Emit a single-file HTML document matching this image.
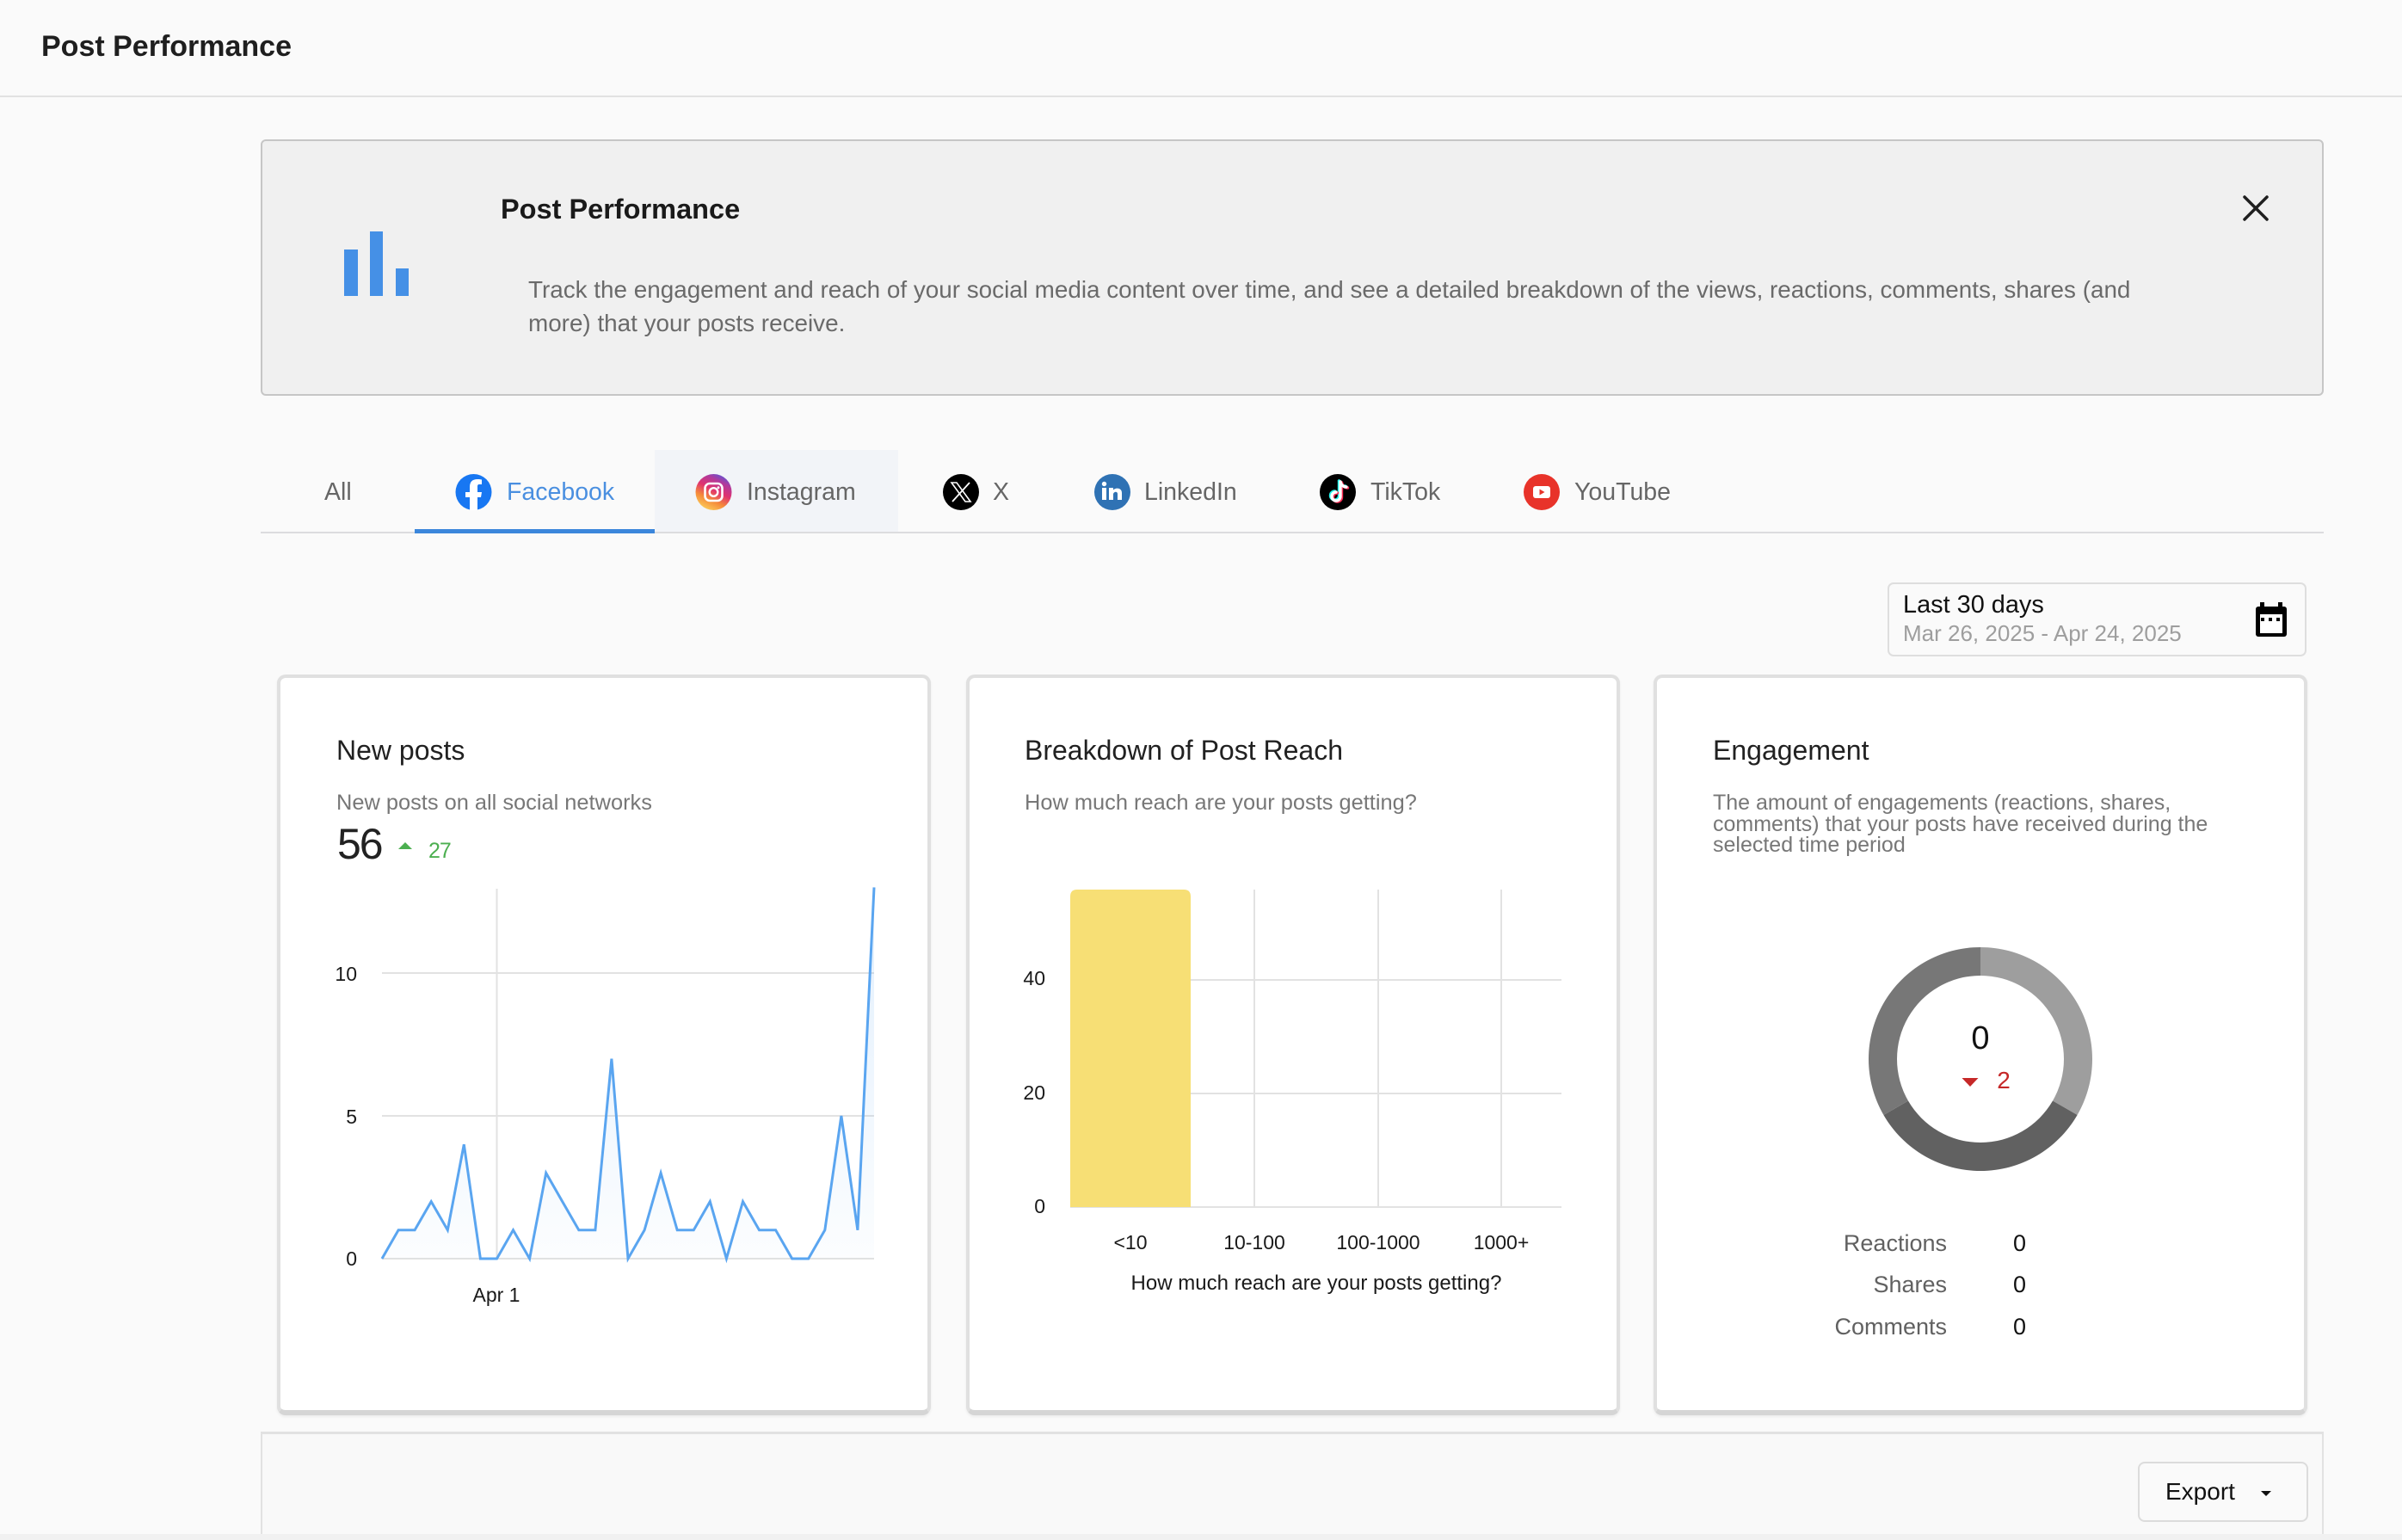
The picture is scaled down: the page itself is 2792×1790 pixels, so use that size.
<!DOCTYPE html>
<html><head><meta charset="utf-8">
<style>
*{margin:0;padding:0;box-sizing:border-box}
html,body{width:2792px;height:1790px;overflow:hidden;background:#fafafa;font-family:"Liberation Sans",Arial,sans-serif;}
.a{position:absolute;white-space:nowrap;line-height:1}
.card{position:absolute;top:784px;width:760px;height:861px;background:#fff;border:4px solid #e0e0e0;border-bottom:6px solid #d5d5d5;border-radius:10px;box-shadow:0 2px 3px rgba(0,0,0,0.06)}
.ct{position:absolute;top:856px;font-size:32px;color:#212121;white-space:nowrap;line-height:1}
.cs{position:absolute;top:921px;font-size:25.4px;color:#777;white-space:nowrap;line-height:1}
.tab{position:absolute;top:558px;font-size:28.5px;color:#666;white-space:nowrap;line-height:1}
</style></head><body>

<!-- header -->
<div class="a" style="left:0;top:0;width:2792px;height:113px;background:#fafafa;border-bottom:2px solid #e2e2e2"></div>
<div class="a" style="left:48px;top:37px;font-size:34px;font-weight:bold;color:#1f1f1f">Post Performance</div>

<!-- banner -->
<div class="a" style="left:303px;top:162px;width:2398px;height:298px;background:#f0f0f0;border:2px solid #c6c6c6;border-radius:6px"></div>
<div class="a" style="left:582px;top:227px;font-size:32.5px;font-weight:bold;color:#1a1a1a">Post Performance</div>
<div class="a" style="left:614px;top:317px;font-size:27.85px;line-height:39px;color:#6a6a6a">Track the engagement and reach of your social media content over time, and see a detailed breakdown of the views, reactions, comments, shares (and<br>more) that your posts receive.</div>

<!-- tabs -->
<div class="a" style="left:761px;top:523px;width:283px;height:95px;background:#f2f4f8"></div>
<div class="a" style="left:303px;top:618px;width:2398px;height:2px;background:#dcdcde"></div>
<div class="a" style="left:482px;top:615px;width:279px;height:5px;background:#3b86db"></div>
<div class="tab" style="left:377px">All</div>
<div class="tab" style="left:589px;color:#4a8fe0">Facebook</div>
<div class="tab" style="left:868px">Instagram</div>
<div class="tab" style="left:1154px">X</div>
<div class="tab" style="left:1330px">LinkedIn</div>
<div class="tab" style="left:1593px">TikTok</div>
<div class="tab" style="left:1830px">YouTube</div>

<!-- date picker -->
<div class="a" style="left:2194px;top:677px;width:487px;height:86px;border:2px solid #dedede;border-radius:7px;background:#fafafa"></div>
<div class="a" style="left:2212px;top:689px;font-size:28.9px;color:#111">Last 30 days</div>
<div class="a" style="left:2212px;top:723px;font-size:26px;color:#9e9e9e">Mar 26, 2025 - Apr 24, 2025</div>

<!-- cards -->
<div class="card" style="left:322px"></div>
<div class="card" style="left:1123px"></div>
<div class="card" style="left:1922px"></div>

<div class="ct" style="left:391px">New posts</div>
<div class="cs" style="left:391px">New posts on all social networks</div>
<div class="a" style="left:392px;top:956px;font-size:50px;letter-spacing:-2px;color:#222">56</div>
<div class="a" style="left:498px;top:977px;font-size:25px;letter-spacing:-1px;color:#4caf50">27</div>

<div class="ct" style="left:1191px">Breakdown of Post Reach</div>
<div class="cs" style="left:1191px">How much reach are your posts getting?</div>

<div class="ct" style="left:1991px">Engagement</div>
<div class="a" style="left:1991px;top:921px;font-size:25px;line-height:24.5px;color:#777">The amount of engagements (reactions, shares,<br>comments) that your posts have received during the<br>selected time period</div>

<!-- bottom panel -->
<div class="a" style="left:303px;top:1664px;width:2398px;height:126px;background:#f9f9f9;border-top:3px solid #e2e2e2;border-left:2px solid #e2e2e2;border-right:2px solid #e2e2e2"></div>
<div class="a" style="left:0;top:1783px;width:2792px;height:7px;background:#f1f1f1"></div>
<div class="a" style="left:2485px;top:1699px;width:198px;height:70px;border:2px solid #dcdcdc;border-radius:8px;background:#fafafa"></div>
<div class="a" style="left:2517px;top:1720px;font-size:28px;color:#111">Export</div>

<svg class="a" style="left:0;top:0" width="2792" height="1790" xmlns="http://www.w3.org/2000/svg" font-family="Liberation Sans, Arial, sans-serif">
<defs>
<linearGradient id="lf" x1="0" y1="0" x2="0" y2="1">
<stop offset="0" stop-color="#5aa5f0" stop-opacity="0.18"/>
<stop offset="1" stop-color="#5aa5f0" stop-opacity="0.02"/>
</linearGradient>
<linearGradient id="ig" x1="0.25" y1="1" x2="0.75" y2="0">
<stop offset="0" stop-color="#fcd15b"/>
<stop offset="0.3" stop-color="#f58a3a"/>
<stop offset="0.55" stop-color="#e0336f"/>
<stop offset="0.8" stop-color="#b13a9c"/>
<stop offset="1" stop-color="#5b55d6"/>
</linearGradient>
</defs>

<!-- banner bar icon -->
<rect x="400" y="290" width="16" height="54" fill="#4590e6"/>
<rect x="430" y="269" width="15" height="75" fill="#4590e6"/>
<rect x="460" y="312" width="15" height="32" fill="#4590e6"/>

<!-- close X -->
<path d="M2609,229 L2635,255 M2635,229 L2609,255" stroke="#1f1f1f" stroke-width="3.5" stroke-linecap="round"/>

<!-- Facebook icon -->
<circle cx="550.5" cy="572" r="21" fill="#1877f2"/>
<path d="M546,593 V578 H541 V572 H546 V566 C546,560 549,557 555,557 C557,557 559,557.3 560,557.5 V563 H557 C555.5,563 555,564 555,565.5 V572 H560 L559,578 H555 V593 Z" fill="#fff"/>

<!-- Instagram icon -->
<circle cx="829.5" cy="572" r="21" fill="url(#ig)"/>
<rect x="819.5" y="562" width="20" height="20" rx="5.5" fill="none" stroke="#fff" stroke-width="2.6"/>
<circle cx="829.5" cy="572" r="4.8" fill="none" stroke="#fff" stroke-width="2.4"/>
<circle cx="835" cy="566.7" r="1.4" fill="#fff"/>

<!-- X icon -->
<circle cx="1117" cy="572" r="21" fill="#000"/>
<polygon points="1106,561 1112,561 1128,583 1122,583" fill="none" stroke="#fff" stroke-width="1.6"/>
<line x1="1127" y1="561" x2="1107" y2="583" stroke="#fff" stroke-width="1.8"/>

<!-- LinkedIn icon -->
<circle cx="1293" cy="572" r="21" fill="#2f72b4"/>
<circle cx="1283.5" cy="562.5" r="2.7" fill="#fff"/>
<rect x="1281" y="567" width="5" height="14" fill="#fff"/>
<rect x="1289" y="567" width="5" height="14" fill="#fff"/>
<path d="M1293,571 C1295,566.5 1304,566 1304,573 V581 H1299 V574 C1299,571 1295,571 1294,574 Z" fill="#fff"/>

<!-- TikTok icon -->
<circle cx="1555" cy="572" r="21" fill="#000"/>
<g fill="none" stroke-width="3.4" stroke-linecap="round">
<g transform="translate(-1.5,-1)" stroke="#25f4ee"><path d="M1558,560 V577 A5,5 0 1 1 1553,572"/><path d="M1558,560 C1559,564 1562,566 1565,566"/></g>
<g transform="translate(1.5,1)" stroke="#fe2c55"><path d="M1558,560 V577 A5,5 0 1 1 1553,572"/><path d="M1558,560 C1559,564 1562,566 1565,566"/></g>
<g stroke="#fff"><path d="M1558,560 V577 A5,5 0 1 1 1553,572"/><path d="M1558,560 C1559,564 1562,566 1565,566"/></g>
</g>

<!-- YouTube icon -->
<circle cx="1792" cy="572" r="21" fill="#e8332a"/>
<rect x="1782" y="565" width="20" height="14" rx="3" fill="#fff"/>
<polygon points="1789.5,568.5 1789.5,575.5 1795.5,572" fill="#e8332a"/>

<!-- calendar icon -->
<rect x="2622" y="705" width="36" height="35" rx="3" fill="#000"/>
<rect x="2627" y="700" width="5" height="8" fill="#000"/>
<rect x="2648" y="700" width="5" height="8" fill="#000"/>
<rect x="2627" y="714" width="26" height="22" fill="#fff"/>
<rect x="2628" y="718" width="4" height="4" fill="#000"/>
<rect x="2637" y="718" width="4" height="4" fill="#000"/>
<rect x="2646" y="718" width="4" height="4" fill="#000"/>

<!-- Card 1 chart -->
<polygon points="463,987 479,987 471,979" fill="#4caf50"/>
<g stroke="#e2e2e2" stroke-width="2">
<line x1="444" y1="1131" x2="1016" y2="1131"/>
<line x1="444" y1="1297" x2="1016" y2="1297"/>
<line x1="444" y1="1463" x2="1016" y2="1463"/>
<line x1="577.5" y1="1033" x2="577.5" y2="1463"/>
</g>
<polygon fill="url(#lf)" points="444,1463 463.1,1429.8 482.1,1429.8 501.2,1396.6 520.3,1429.8 539.3,1330.2 558.4,1463 577.5,1463 596.5,1429.8 615.6,1463 634.7,1363.4 653.7,1396.6 672.8,1429.8 691.9,1429.8 710.9,1230.6 730,1463 749.1,1429.8 768.1,1363.4 787.2,1429.8 806.3,1429.8 825.3,1396.6 844.4,1463 863.5,1396.6 882.5,1429.8 901.6,1429.8 920.7,1463 939.7,1463 958.8,1429.8 977.9,1297 996.9,1429.8 1016,1031.4 1016,1463"/>
<polyline fill="none" stroke="#5aa5f0" stroke-width="3" stroke-linejoin="miter" points="444,1463 463.1,1429.8 482.1,1429.8 501.2,1396.6 520.3,1429.8 539.3,1330.2 558.4,1463 577.5,1463 596.5,1429.8 615.6,1463 634.7,1363.4 653.7,1396.6 672.8,1429.8 691.9,1429.8 710.9,1230.6 730,1463 749.1,1429.8 768.1,1363.4 787.2,1429.8 806.3,1429.8 825.3,1396.6 844.4,1463 863.5,1396.6 882.5,1429.8 901.6,1429.8 920.7,1463 939.7,1463 958.8,1429.8 977.9,1297 996.9,1429.8 1016,1031.4"/>
<g font-size="23" fill="#1a1a1a">
<text x="415" y="1140" text-anchor="end">10</text>
<text x="415" y="1306" text-anchor="end">5</text>
<text x="415" y="1471" text-anchor="end">0</text>
<text x="577" y="1513" text-anchor="middle">Apr 1</text>
</g>

<!-- Card 2 chart -->
<g stroke="#e2e2e2" stroke-width="2">
<line x1="1244" y1="1139" x2="1815" y2="1139"/>
<line x1="1244" y1="1271" x2="1815" y2="1271"/>
<line x1="1244" y1="1403" x2="1815" y2="1403"/>
<line x1="1458" y1="1034" x2="1458" y2="1403"/>
<line x1="1602" y1="1034" x2="1602" y2="1403"/>
<line x1="1745" y1="1034" x2="1745" y2="1403"/>
</g>
<path d="M1244,1403 V1042 Q1244,1034 1252,1034 H1376 Q1384,1034 1384,1042 V1403 Z" fill="#f7df75"/>
<g font-size="23" fill="#1a1a1a">
<text x="1215" y="1145" text-anchor="end">40</text>
<text x="1215" y="1278" text-anchor="end">20</text>
<text x="1215" y="1410" text-anchor="end">0</text>
<text x="1314" y="1452" text-anchor="middle">&lt;10</text>
<text x="1458" y="1452" text-anchor="middle">10-100</text>
<text x="1602" y="1452" text-anchor="middle">100-1000</text>
<text x="1745" y="1452" text-anchor="middle">1000+</text>
</g>
<text x="1530" y="1499" text-anchor="middle" font-size="24" fill="#1a1a1a">How much reach are your posts getting?</text>

<!-- Card 3 donut -->
<path d="M2302,1101 A130,130 0 0 1 2414.58,1296 L2386,1279.5 A97,97 0 0 0 2302,1134 Z" fill="#9e9e9e"/>
<path d="M2414.58,1296 A130,130 0 0 1 2189.42,1296 L2218,1279.5 A97,97 0 0 0 2386,1279.5 Z" fill="#616161"/>
<path d="M2189.42,1296 A130,130 0 0 1 2302,1101 L2302,1134 A97,97 0 0 0 2218,1279.5 Z" fill="#777777"/>
<text x="2302" y="1219" text-anchor="middle" font-size="38" fill="#111">0</text>
<polygon points="2280.5,1253 2299.5,1253 2290,1263" fill="#c62828"/>
<text x="2329" y="1265" text-anchor="middle" font-size="28" fill="#c62828">2</text>
<g font-size="27">
<text x="2263" y="1454" text-anchor="end" fill="#616161">Reactions</text>
<text x="2263" y="1502" text-anchor="end" fill="#616161">Shares</text>
<text x="2263" y="1551" text-anchor="end" fill="#616161">Comments</text>
<text x="2340" y="1454" fill="#111">0</text>
<text x="2340" y="1502" fill="#111">0</text>
<text x="2340" y="1551" fill="#111">0</text>
</g>

<!-- export caret -->
<polygon points="2628,1733 2640,1733 2634,1739" fill="#111"/>
</svg>
</body></html>
